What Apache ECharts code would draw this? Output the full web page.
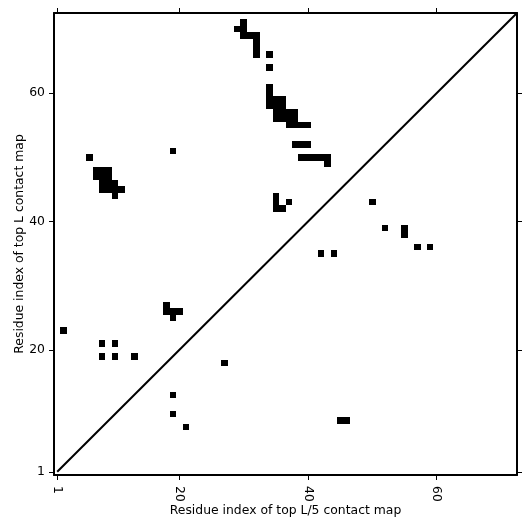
<!DOCTYPE html>
<html>
<head>
<meta charset="utf-8">
<script src="https://cdn.jsdelivr.net/npm/echarts@6/dist/echarts.min.js"></script>
<style>
  html, body { margin: 0; padding: 0; background: #fff; }
  #chart { width: 531px; height: 531px; }
</style>
</head>
<body>
<div id="chart"></div>
<script>
// residue count and tick positions
const L = 72;
const tickValues = [1, 20, 40, 60];

// top L contacts (upper triangle), [i, j]
const topLCells = [
  [30, 71], [29, 70], [30, 70], [30, 69], [31, 69], [32, 69], [32, 68], [32, 67], [32, 66],
  [34, 66], [34, 64],
  [34, 61], [34, 60], [34, 59], [35, 59], [36, 59], [34, 58], [35, 58], [36, 58],
  [35, 57], [36, 57], [37, 57], [38, 57], [35, 56], [36, 56], [37, 56], [38, 56],
  [37, 55], [38, 55], [39, 55], [40, 55],
  [38, 52], [39, 52], [40, 52],
  [39, 50], [40, 50], [41, 50], [42, 50], [43, 50], [43, 49],
  [35, 44], [35, 43], [35, 42], [36, 42], [37, 43],
  [19, 51], [6, 50],
  [7, 48], [8, 48], [9, 48], [7, 47], [8, 47], [9, 47],
  [8, 46], [9, 46], [10, 46], [8, 45], [9, 45], [10, 45], [11, 45], [10, 44],
  [2, 23], [18, 27], [18, 26], [19, 26], [20, 26], [19, 25],
  [8, 21], [10, 21], [8, 19], [10, 19], [13, 19]
];

// top L/5 contacts (lower triangle), [i, j]
const topL5Cells = [
  [50, 43], [52, 39], [55, 39], [55, 38], [57, 36], [59, 36],
  [42, 35], [44, 35], [45, 9], [46, 9], [27, 18], [21, 8], [19, 13], [19, 10]
];

// diagonal
const diagonal = [[1, 1], [L + 0.5, L + 0.5]];

const chart = echarts.init(document.getElementById('chart'));

const font = { fontFamily: 'DejaVu Sans', fontSize: 12.4, color: '#000' };

function cellRender(params, api) {
  const x = api.value(0);
  const y = api.value(1);
  const p1 = api.coord([x - 0.5, y + 0.5]);
  const p2 = api.coord([x + 0.5, y - 0.5]);
  const x0 = Math.round(p1[0]), y0 = Math.round(p1[1]);
  const x1 = Math.round(p2[0]), y1 = Math.round(p2[1]);
  return {
    type: 'rect',
    shape: { x: x0, y: y0, width: x1 - x0, height: y1 - y0 },
    style: { fill: '#000' }
  };
}

function axisBase(position, showLabel) {
  return {
    type: 'value',
    min: 0.5,
    max: L + 0.5,
    position: position,
    axisLine: { show: true, onZero: false, lineStyle: { color: '#000', width: 2 } },
    axisTick: { show: true, customValues: tickValues, length: 5, lineStyle: { color: '#000', width: 1 } },
    axisLabel: { show: showLabel, customValues: tickValues, ...font },
    splitLine: { show: false }
  };
}

const xBottom = axisBase('bottom', true);
xBottom.axisLabel.rotate = -90;
xBottom.axisLabel.margin = 11;
xBottom.name = 'Residue index of top L/5 contact map';
xBottom.nameLocation = 'middle';
xBottom.nameGap = 30;
xBottom.nameMoveOverlap = false;
xBottom.nameTextStyle = { ...font };

const yLeft = axisBase('left', true);
yLeft.axisLabel.margin = 9;
yLeft.name = 'Residue index of top L contact map';
yLeft.nameLocation = 'middle';
yLeft.nameGap = 28;
yLeft.nameMoveOverlap = false;
yLeft.nameTextStyle = { ...font };

const option = {
  animation: false,
  backgroundColor: '#fff',
  grid: { left: 54, top: 13, width: 463, height: 462 },
  xAxis: [xBottom, axisBase('top', false)],
  yAxis: [yLeft, axisBase('right', false)],
  series: [
    {
      type: 'custom',
      name: 'top L',
      renderItem: cellRender,
      encode: { x: 0, y: 1 },
      data: topLCells
    },
    {
      type: 'custom',
      name: 'top L/5',
      renderItem: cellRender,
      encode: { x: 0, y: 1 },
      data: topL5Cells
    },
    {
      type: 'line',
      data: diagonal,
      symbol: 'none',
      clip: true,
      lineStyle: { color: '#000', width: 2 }
    }
  ]
};

chart.setOption(option);
</script>
</body>
</html>
